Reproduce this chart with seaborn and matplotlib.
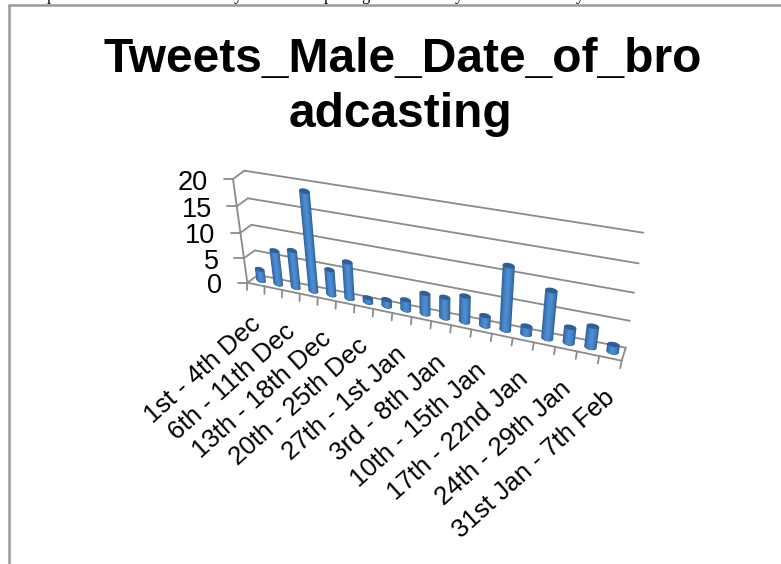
import numpy as np
import matplotlib
matplotlib.use("Agg")
import matplotlib.pyplot as plt
import matplotlib.transforms as mtransforms
from matplotlib.patches import Ellipse
from matplotlib.lines import Line2D
import seaborn as sns

# Tweets per broadcast period
title_text = "Tweets_Male_Date_of_bro\nadcasting"
tweet_counts = [2.3, 6.7, 7.4, 19, 5, 7.2, 0.9, 1.3, 2, 4, 4, 5, 2, 12, 1.6, 9, 3, 4, 1.4]
period_labels = ["1st - 4th Dec", "6th - 11th Dec", "13th - 18th Dec", "20th - 25th Dec",
                 "27th - 1st Jan", "3rd - 8th Jan", "10th - 15th Jan", "17th - 22nd Jan",
                 "24th - 29th Jan", "31st Jan - 7th Feb"]
value_ticks = [0, 5, 10, 15, 20]

W, H = 781, 564
N = len(tweet_counts)
VMAX = value_ticks[-1]

# Perspective corners of the three depth planes, in pixels:
# (0,0), (N,0), (0,VMAX), (N,VMAX)
FRONT = [(247.3, 282.7), (621.7, 360.7), (233.0, 179.0), (638.8, 247.0)]
MIDDLE = [(252.6, 278.8), (623.7, 354.2), (238.6, 174.9), (641.0, 239.9)]
BACK = [(258.0, 275.0), (625.7, 347.7), (244.3, 170.7), (643.3, 232.7)]


class PlaneProjection(mtransforms.Transform):
    """Homography from (category, value) space onto one depth plane."""
    input_dims = 2
    output_dims = 2
    is_separable = False
    has_inverse = False

    def __init__(self, corners):
        super().__init__()
        src = [(0, 0), (N, 0), (0, VMAX), (N, VMAX)]
        rows, rhs = [], []
        for (x, y), (u, v) in zip(src, corners):
            rows.append([x, y, 1, 0, 0, 0, -u * x, -u * y])
            rows.append([0, 0, 0, x, y, 1, -v * x, -v * y])
            rhs += [u, v]
        h = np.linalg.solve(np.array(rows, float), np.array(rhs, float))
        self.matrix = np.append(h, 1.0).reshape(3, 3)

    def transform_non_affine(self, values):
        pts = np.column_stack([values, np.ones(len(values))]) @ self.matrix.T
        return pts[:, :2] / pts[:, 2:3]


sns.set_theme(style="white")
plt.rcParams["font.family"] = ["Liberation Sans"]

fig = plt.figure(figsize=(W / 100, H / 100), dpi=100, facecolor="white")
ax = fig.add_axes([0, 0, 1, 1])
ax.set_axis_off()

pixels = mtransforms.Affine2D().scale(1, -1).translate(0, H)
front_plane = PlaneProjection(FRONT)
middle_plane = PlaneProjection(MIDDLE)
back_plane = PlaneProjection(BACK)

GRID = "#8b8b8b"


def seg(p, q, lw=1.3, color=GRID, z=1):
    ax.add_line(Line2D([p[0], q[0]], [p[1], q[1]], transform=pixels, color=color,
                       lw=lw, zorder=z, clip_on=False, solid_capstyle="round"))


def at(plane, x, v):
    return plane.transform(np.array([[x, v]], float))[0]


# Back wall gridlines, side wall and value axis
for v in value_ticks:
    b0, b1, f0 = at(back_plane, 0, v), at(back_plane, N, v), at(front_plane, 0, v)
    seg(b0, b1)
    seg(f0, b0)
    tick_end = (f0[0] - 9.5, f0[1])
    seg(f0, tick_end)
    ax.text(f0[0] - 25, f0[1] + 0.5, str(v), transform=pixels, ha="right", va="center_baseline",
            fontsize=19.5, color="black", clip_on=False)
seg(at(front_plane, 0, 0), at(front_plane, 0, VMAX))

# Floor outline and category ticks
seg(at(front_plane, 0, 0), at(front_plane, N, 0))
seg(at(front_plane, N, 0), at(back_plane, N, 0))
for k in range(N + 1):
    p = at(front_plane, k, 0)
    seg(p, (p[0] - 0.3 * k / N * 5, p[1] + 7.5))

# Cylinders: nested bars from dark rim to light centre
positions = np.arange(N) + 0.5
shades = [(0.56, "#2f6096"), (0.48, "#3a70ad"), (0.35, "#4180c2"), (0.17, "#4c8bcd")]
CAP = 0.95
for width, color in shades:
    for x in positions:
        ax.add_patch(Ellipse((x, 0), width, CAP, transform=middle_plane + pixels,
                             facecolor=color, edgecolor="none", zorder=3, clip_on=False))
    before = len(ax.patches)
    sns.barplot(x=positions, y=tweet_counts, width=width, color=color, saturation=1,
                native_scale=True, linewidth=0, ax=ax, zorder=3)
    for bar in ax.patches[before:]:
        bar.set_transform(middle_plane + pixels)
        bar.set_clip_on(False)
        bar.set_zorder(3)

# Cylinder lids
for x, v in zip(positions, tweet_counts):
    ax.add_patch(Ellipse((x, v), 0.56, CAP, transform=middle_plane + pixels,
                         facecolor="#2e5f97", edgecolor="none", zorder=4, clip_on=False))

# Every second period is labelled
for k, label in enumerate(period_labels):
    p = at(front_plane, positions[2 * k], 0)
    ax.text(p[0] + 1, p[1] + 36, label, transform=pixels, rotation=42, rotation_mode="anchor",
            ha="right", va="center", fontsize=18.6, color="black", clip_on=False)

ax.set_xlim(0, N)
ax.set_ylim(0, VMAX)

# Chart title
ax.text(403, 72, title_text.split("\n")[0], transform=pixels, ha="center", va="baseline",
        fontsize=34.5, fontweight="bold", color="black", clip_on=False)
ax.text(400, 127, title_text.split("\n")[1], transform=pixels, ha="center", va="baseline",
        fontsize=34.5, fontweight="bold", color="black", clip_on=False)

# Chart area border (left and top edges fall inside the canvas)
seg((9, H), (9, 4.6), lw=1.8, color="#9a9a9a", z=6)
seg((9, 4.6), (W, 4.6), lw=1.8, color="#9a9a9a", z=6)

# Descenders of the running text above the chart
for x, ch in zip([51, 238, 328, 365, 459, 580], "pypgyy"):
    ax.text(x, 0.5, ch, transform=pixels, ha="center", va="baseline", fontsize=12,
            family="Liberation Serif", color="black", clip_on=False)

fig.savefig("out.png", dpi=100, facecolor="white")
